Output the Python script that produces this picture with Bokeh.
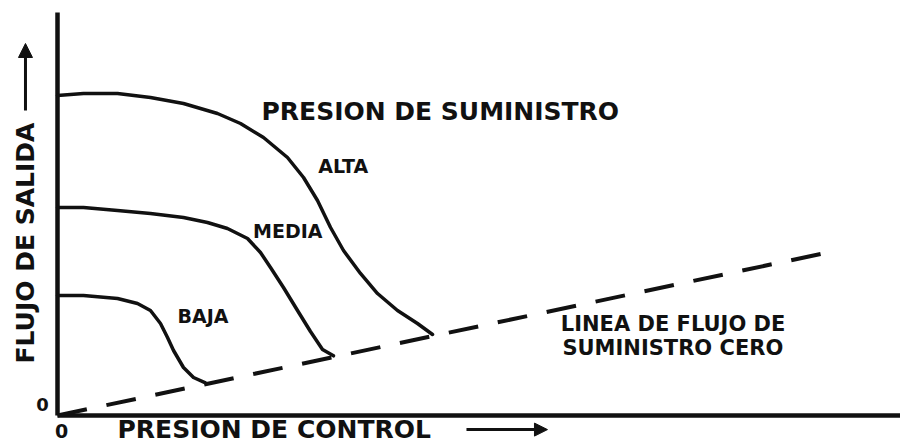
import math
from bokeh.plotting import figure
from bokeh.models import Label, Arrow, NormalHead
from bokeh.embed import file_html
from bokeh.resources import INLINE

# --- data (control pressure vs output flow, arbitrary units 0..100) ---
alta_x = [0, 3.11, 7.18, 11.12, 15.07, 19.14, 21.89, 24.64, 27.51, 29.43, 31.10, 32.66, 34.21, 36.24, 38.28, 40.67, 43.06, 44.86]
alta_y = [79.40, 79.90, 79.90, 78.91, 77.42, 74.94, 72.46, 68.98, 64.02, 59.06, 53.35, 46.65, 40.94, 35.24, 30.27, 26.05, 22.83, 20.1]

media_x = [0, 3.11, 7.18, 11.12, 15.07, 17.94, 20.33, 22.73, 24.28, 25.48, 27.03, 28.71, 30.26, 31.70, 33.01]
media_y = [51.61, 51.61, 50.87, 50.12, 49.13, 47.89, 46.40, 43.92, 40.45, 36.72, 31.76, 26.05, 20.84, 16.38, 14.8]

baja_x = [0, 3.11, 7.18, 9.57, 11.12, 12.32, 13.16, 13.88, 15.07, 16.27, 17.70]
baja_y = [29.78, 29.78, 29.03, 27.79, 26.05, 22.83, 19.35, 16.13, 11.91, 9.43, 8.1]

zero_x = [0, 92.11]
zero_y = [0, 40.45]

# axis extents
Y_TOP = 100.0

W, H = 900, 445
X0_PX, SX = 57, 8.36      # pixel of x=0, pixels per unit
Y0_PX, SY = 415, 4.03     # pixel of y=0, pixels per unit

FONT = "DejaVu Sans"
INK = "#111111"

p = figure(width=W, height=H,
           x_range=(-X0_PX / SX, (W - X0_PX) / SX),
           y_range=((Y0_PX - H) / SY, Y0_PX / SY),
           output_backend="svg", toolbar_location=None,
           min_border=0)
p.xaxis.visible = False
p.yaxis.visible = False
p.grid.visible = False
p.outline_line_color = None
p.background_fill_color = "white"
p.border_fill_color = "white"

# axes lines
XR_END = (W - X0_PX) / SX
p.segment(x0=[0, 0], y0=[0, 0], x1=[0, XR_END], y1=[Y_TOP, 0],
          line_color=INK, line_width=4.5)

# curves
for xs, ys in ((alta_x, alta_y), (media_x, media_y), (baja_x, baja_y)):
    p.line(xs, ys, line_color=INK, line_width=3.5, line_join="round", line_cap="round")

p.line(zero_x, zero_y, line_color=INK, line_width=4, line_dash="30 20")


def lab(x, y, text, size, align="left", angle=0.0):
    p.add_layout(Label(x=x, y=y, text=text, text_font=FONT, text_font_style="bold",
                       text_font_size=f"{size}px", text_color=INK, text_align=align,
                       text_baseline="middle", angle=angle))


lab(24.4, 75.43, "PRESION DE SUMINISTRO", 25)
lab(31.2, 61.9, "ALTA", 19)
lab(23.4, 45.8, "MEDIA", 19)
lab(14.35, 24.6, "BAJA", 19)
lab(60.2, 22.7, "LINEA DE FLUJO DE", 21)
lab(60.4, 16.75, "SUMINISTRO CERO", 21)

# axis texts
lab(-1.79, 2.73, "0", 18, align="center")
lab(0.48, -3.8, "0", 19, align="center")
lab(7.18, -3.5, "PRESION DE CONTROL", 25)
lab(-3.83, 12.9, "FLUJO DE SALIDA", 25, angle=math.pi / 2)

p.add_layout(Arrow(end=NormalHead(size=13, fill_color=INK, line_color=INK),
                   x_start=48.92, y_start=-3.5, x_end=58.61, y_end=-3.5,
                   line_color=INK, line_width=3))
p.add_layout(Arrow(end=NormalHead(size=14, fill_color=INK, line_color=INK),
                   x_start=-3.83, y_start=75.68, x_end=-3.83, y_end=92.31,
                   line_color=INK, line_width=3))

open("out.html", "w").write(file_html(p, INLINE))
